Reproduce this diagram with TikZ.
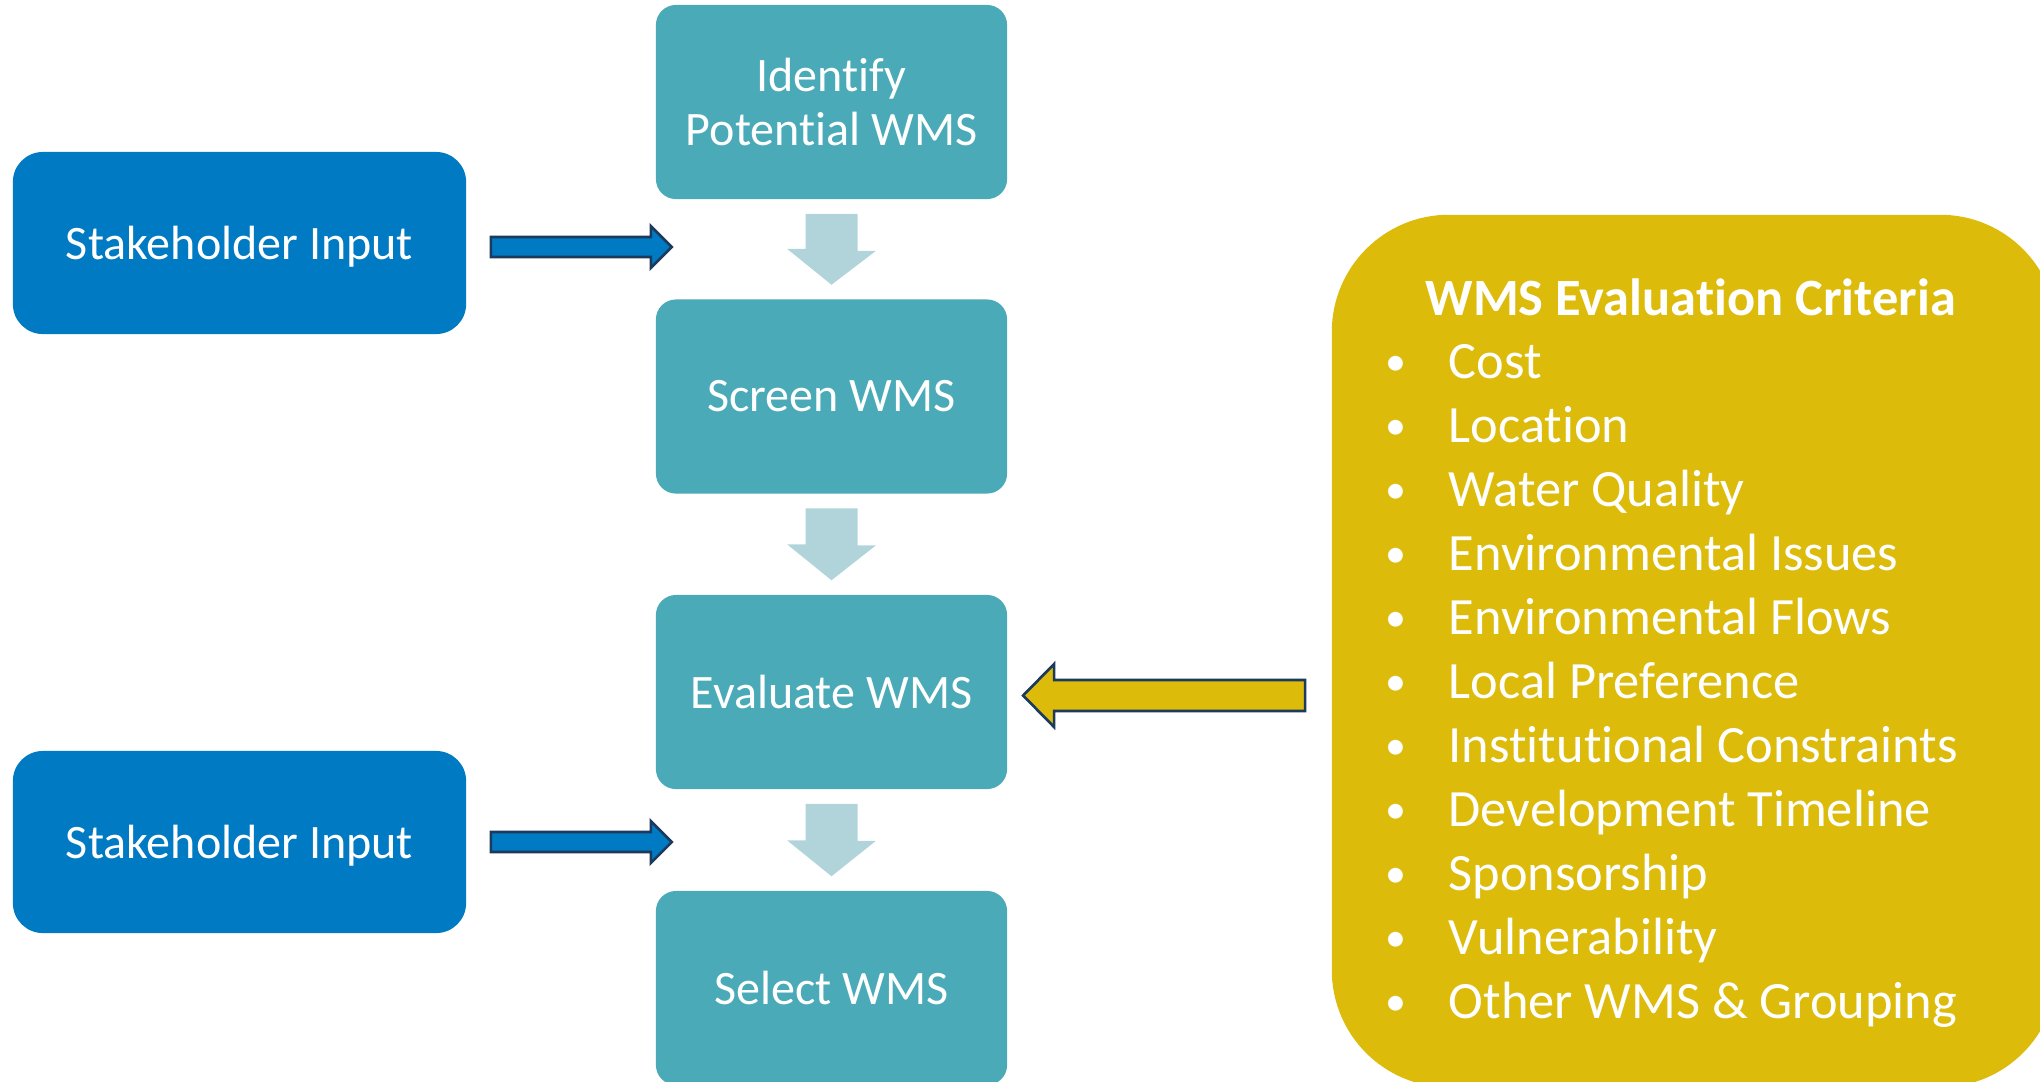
\documentclass[tikz,border=0pt]{standalone}
\usepackage{fontspec}
\setmainfont{Carlito}[Ligatures=CommonOff]
\usepackage{graphicx}
\usepackage{xcolor}
\usepackage{tikz}
\usetikzlibrary{calc}
% keep t and i apart
\XeTeXinterchartokenstate=1
\newXeTeXintercharclass\tclass
\newXeTeXintercharclass\iclass
\XeTeXcharclass`t=\tclass
\XeTeXcharclass`i=\iclass
\XeTeXinterchartoks\tclass\iclass={\kern0pt }
\definecolor{myteal}{HTML}{4BAAB8}
\definecolor{myblue}{HTML}{017AC4}
\definecolor{mypale}{HTML}{B1D4DB}
\definecolor{myyellow}{HTML}{DCBB0B}
\definecolor{mynavy}{HTML}{1B3A5C}
\tikzstyle{stage} = [rectangle,rounded corners=0.2cm,fill=myteal,text=white,minimum width=3.51cm,minimum height=1.94cm,align=center,font=\fontsize{13.66}{15.37}\selectfont]
\tikzstyle{stakebox} = [rectangle,rounded corners=0.3cm,fill=myblue,text=white,minimum width=4.53cm,minimum height=1.82cm,text depth=0pt,font=\fontsize{13.66}{15.37}\selectfont]
\tikzstyle{critbox} = [rectangle,rounded corners=1.17cm,fill=myyellow,minimum width=7.25cm,minimum height=8.72cm]
\tikzstyle{crittext} = [text=white,inner sep=0pt,font=\fontsize{14.9}{18.2}\selectfont]
\tikzstyle{flow} = [fill=mypale]
\tikzstyle{feed} = [line width=0.75pt,draw=mynavy,line join=miter]

\begin{document}
\begin{tikzpicture}[x=0.01cm,y=-0.01cm]
            \useasboundingbox (0,0) rectangle (2040,1081);
            \clip (0,0) rectangle (2040,1081);
            % process
            \node[stage] (identify) at (831.5,102) {Identify\\Potential WMS};
            \node[stage] (screen) at (831.5,396.5) {Screen WMS};
            \node[stage] (evaluate) at (831.5,692) {Evaluate WMS};
            \node[stage] (select) at (831.5,988) {Select WMS};
            \foreach \a/\b in {identify/screen,screen/evaluate,evaluate/select}
                \fill[flow] ($(\a.south)+(-26,14)$) -- ++(52,0) -- ++(0,37) -- ++(18.5,0) -- ($(\b.north)+(0,-14)$) -- ++(-44.5,-36) -- ++(18.5,0) -- cycle;
            % stakeholders
            \node[stakebox] (stake1) at (239.5,243) {Stakeholder Input};
            \node[stakebox] (stake2) at (239.5,842) {Stakeholder Input};
            \filldraw[feed,fill=myblue] ($(stake1.east)+(24,-6)$) -- ++(160,0) -- ++(0,-11) -- ++(21,21) -- ++(-21,21) -- ++(0,-11) -- ++(-160,0) -- cycle;
            \filldraw[feed,fill=myblue] ($(stake2.east)+(24,-10)$) -- ++(160,0) -- ++(0,-11) -- ++(21,21) -- ++(-21,21) -- ++(0,-11) -- ++(-160,0) -- cycle;
            % criteria
            \node[critbox] (crit) at (1694.5,651) {};
            \node[crittext,font=\fontsize{14.9}{18.2}\selectfont\bfseries,anchor=base west] (crithead) at (1425,315) {WMS Evaluation Criteria};
            \foreach \t [count=\i] in {Cost,Location,Water Quality,Environmental Issues,Environmental Flows,Local Preference,Institutional Constraints,Development Timeline,Sponsorship,Vulnerability,Other WMS \& Grouping}
                \node[crittext,anchor=base west] (item\i) at (1388,314+64*\i) {\makebox[0.6cm][l]{\hspace{-0.03cm}\raisebox{0.12ex}{\scalebox{0.8}{\textbullet}}}\t};
            \filldraw[feed,fill=myyellow] ($(crit.west)+(-26,29)$) -- ++(-251,0) -- ++(0,-16) -- ++(-31,31.5) -- ++(31,31.5) -- ++(0,-16) -- ++(251,0) -- cycle;
\end{tikzpicture}
\end{document}
